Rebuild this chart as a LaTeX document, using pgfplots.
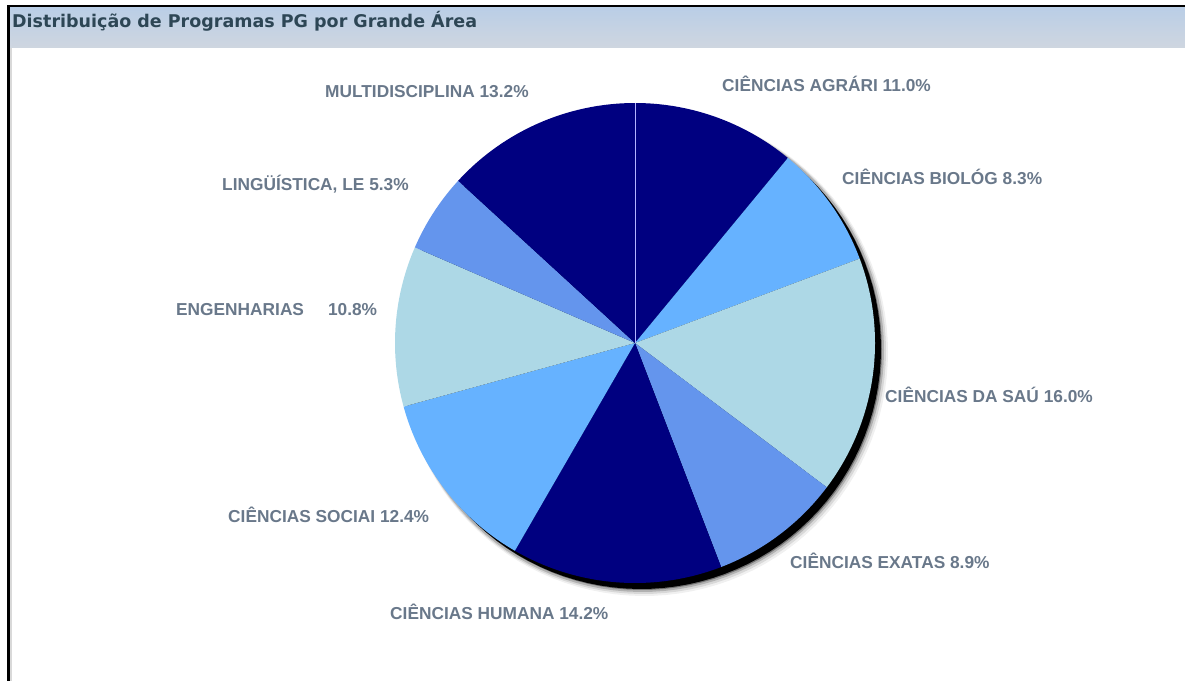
\documentclass[border=0pt]{standalone}
\usepackage{fontspec}
\setmainfont{Liberation Sans}
\newfontfamily\titlefont{DejaVu Sans}
\usepackage{pgfplots}
\pgfplotsset{compat=1.18}
\definecolor{navy}{RGB}{0,0,128}
\definecolor{sky}{RGB}{102,178,255}
\definecolor{lblue}{RGB}{173,216,230}
\definecolor{corn}{RGB}{100,149,237}
\definecolor{lab}{RGB}{105,120,138}
\definecolor{ttl}{RGB}{45,70,85}
\definecolor{bartop}{RGB}{186,206,230}
\definecolor{barbot}{RGB}{207,214,224}
% slice: #1 cumulative start (%), #2 value (%), #3 colour
\newcommand\slice[3]{%
  \addplot[fill=#3, draw=none, domain={90-360*(#1+#2)/100.1}:{90-360*(#1)/100.1}, samples=90]
    ({635+240*cos(x)},{338+240*sin(x)}) -- (635,338) -- cycle;}
\newcommand\lbl[3]{\node[anchor=base west, inner sep=0pt, text=lab,
  font=\bfseries\fontsize{17.3}{20}\selectfont] at (#1,#2) {#3};}
% shadow ring: #1 dx, #2 dy, #3 radius, #4 opacity
\newcommand\shadowring[4]{%
  \addplot[fill=black, fill opacity=#4, draw=none, domain=0:360, samples=120]
    ({635+#1+#3*cos(x)},{338+#2+#3*sin(x)});}
\begin{document}
\begin{tikzpicture}
\begin{axis}[
  at={(0,0)}, anchor=south west,
  scale only axis, width=1185pt, height=681pt,
  xmin=0, xmax=1185, ymin=0, ymax=681,
  hide axis, clip=false]
% frame and title bar
\fill[black] (7,673) rectangle (1185,676);
\fill[black] (7,0) rectangle (10,676);
\fill[black!15] (10,0) rectangle (12,633);
\fill[top color=bartop, bottom color=barbot] (10,633) rectangle (1185,673);
\node[anchor=base west, inner sep=0pt, text=ttl,
  font=\titlefont\bfseries\fontsize{17.5}{20}\selectfont] at (12,653)
  {Distribuição de Programas PG por Grande Área};
% shadow
\shadowring{9}{-9}{244}{0.06}
\shadowring{8}{-8}{243}{0.10}
\shadowring{7}{-7}{242}{0.18}
\shadowring{7}{-7}{240}{0.35}
\shadowring{6}{-6}{240}{1}
% slices (clockwise from top)
\slice{0}{11.0}{navy}
\slice{11.0}{8.3}{sky}
\slice{19.3}{16.0}{lblue}
\slice{35.3}{8.9}{corn}
\slice{44.2}{14.2}{navy}
\slice{58.4}{12.4}{sky}
\slice{70.8}{10.8}{lblue}
\slice{81.6}{5.3}{corn}
\slice{86.9}{13.2}{navy}
\addplot[draw=blue!30!white, line width=0.8pt] coordinates {(635,338) (635,578)};
% labels
\lbl{325}{583}{MULTIDISCIPLINA 13.2\%}
\lbl{722}{589}{CIÊNCIAS AGRÁRI 11.0\%}
\lbl{842}{496}{CIÊNCIAS BIOLÓG 8.3\%}
\lbl{222}{490}{LINGÜÍSTICA, LE 5.3\%}
\lbl{176}{366}{ENGENHARIAS\hspace{24pt}10.8\%}
\lbl{885}{279}{CIÊNCIAS DA SAÚ 16.0\%}
\lbl{228}{159}{CIÊNCIAS SOCIAI 12.4\%}
\lbl{790}{113}{CIÊNCIAS EXATAS 8.9\%}
\lbl{390}{62}{CIÊNCIAS HUMANA 14.2\%}
\end{axis}
\pgfresetboundingbox
\path[use as bounding box] (0,0) rectangle (1185pt,681pt);
\end{tikzpicture}
\end{document}
